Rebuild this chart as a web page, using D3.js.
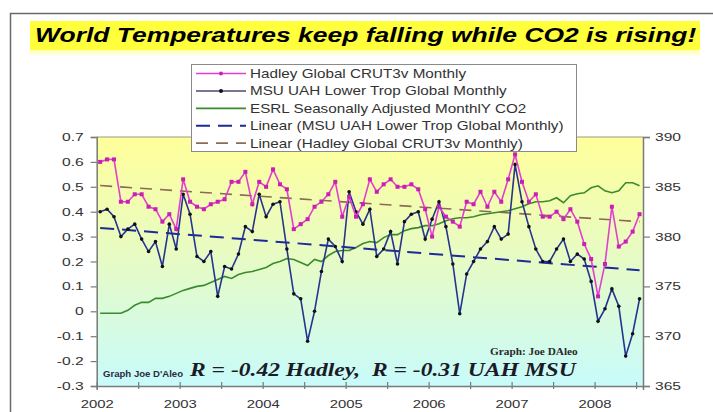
<!DOCTYPE html>
<html><head><meta charset="utf-8">
<script src="https://cdn.jsdelivr.net/npm/d3@7"></script>
<style>
html,body{margin:0;padding:0;background:#fff;}
svg{display:block;}
text{white-space:pre;}
</style></head><body>
<svg id="c" width="713" height="412"></svg>
<script>
// ---------- data ----------
const years = ["2002","2003","2004","2005","2006","2007","2008"];
const leftTicks = [0.7,0.6,0.5,0.4,0.3,0.2,0.1,0,-0.1,-0.2,-0.3];
const rightTicks = [390,385,380,375,370,365];
const seriesNames = [
  "Hadley Global CRUT3v Monthly",
  "MSU UAH Lower Trop Global Monthly",
  "ESRL Seasonally Adjusted MonthlY CO2",
  "Linear (MSU UAH Lower Trop Global Monthly)",
  "Linear (Hadley Global CRUT3v Monthly)"
];
// monthly values Jan 2002 .. Jul 2008
const hadley = [0.60,0.61,0.61,0.44,0.44,0.47,0.47,0.42,0.41,0.36,0.39,0.33,
  0.53,0.44,0.42,0.41,0.43,0.44,0.45,0.52,0.52,0.56,0.43,0.52,
  0.50,0.57,0.51,0.49,0.33,0.35,0.37,0.42,0.44,0.47,0.52,0.38,
  0.46,0.38,0.43,0.53,0.48,0.51,0.53,0.50,0.50,0.51,0.49,0.41,
  0.30,0.42,0.38,0.36,0.34,0.44,0.43,0.48,0.42,0.48,0.44,0.53,
  0.63,0.52,0.44,0.47,0.38,0.38,0.40,0.37,0.41,0.36,0.27,0.21,
  0.06,0.19,0.42,0.26,0.28,0.32,0.39];
const uah = [0.40,0.41,0.38,0.30,0.33,0.35,0.29,0.24,0.28,0.18,0.35,0.25,
  0.47,0.39,0.22,0.20,0.24,0.06,0.18,0.17,0.23,0.34,0.32,0.47,
  0.38,0.43,0.44,0.25,0.07,0.05,-0.12,0.00,0.16,0.29,0.26,0.20,
  0.48,0.40,0.35,0.41,0.22,0.25,0.32,0.19,0.36,0.39,0.40,0.29,
  0.37,0.44,0.34,0.19,-0.01,0.15,0.20,0.25,0.28,0.34,0.29,0.31,
  0.59,0.44,0.34,0.25,0.20,0.20,0.25,0.29,0.20,0.23,0.21,0.12,
  -0.04,0.01,0.09,0.02,-0.18,-0.09,0.05];
const co2 = [372.3,372.3,372.3,372.3,372.6,373.1,373.4,373.4,373.8,373.8,374.0,374.3,
  374.6,374.8,375.0,375.1,375.4,375.7,376.0,375.8,376.2,376.4,376.5,376.7,
  376.9,377.3,377.5,377.8,377.7,377.4,377.1,377.7,377.5,378.1,378.5,378.6,
  378.6,378.9,379.3,379.5,379.4,379.9,380.2,380.2,380.6,380.8,380.9,381.1,
  381.1,381.3,381.6,381.8,381.9,381.9,382.0,382.2,382.3,382.4,382.5,382.6,
  382.8,383.0,383.3,383.5,383.5,383.6,383.9,383.4,384.1,384.3,384.4,384.9,
  385.1,384.6,384.4,384.6,385.4,385.4,385.1];
const uahTrend = [0.335, 0.165];     // at first and last month
const hadleyTrend = [0.505, 0.360];  // at first and last month
const titleText = "World Temperatures keep falling while CO2 is rising!";
const noteR = "R = -0.42 Hadley,  R = -0.31 UAH MSU";
const noteGraph1 = "Graph Joe D'Aleo";
const noteGraph2 = "Graph: Joe DAleo";

// ---------- setup ----------
const svg = d3.select("#c");
const W = 713, H = 412;
const plot = {left: 96.7, right: 643, top: 137, bottom: 386};
const n = hadley.length;
const x = d3.scaleLinear().domain([-0.5, n - 0.5]).range([plot.left, plot.right]);
const yL = d3.scaleLinear().domain([-0.3, 0.7]).range([plot.bottom, plot.top]);
const yR = d3.scaleLinear().domain([365, 390]).range([plot.bottom, plot.top]);
const SANS = "'Liberation Sans', Arial, sans-serif";
const SERIF = "'Liberation Serif', 'Times New Roman', serif";

const defs = svg.append("defs");
const g1 = defs.append("linearGradient").attr("id","bg").attr("x1",0).attr("y1",0).attr("x2",0).attr("y2",1);
g1.append("stop").attr("offset","0%").attr("stop-color","#ffff9a");
g1.append("stop").attr("offset","50%").attr("stop-color","#e6fbc6");
g1.append("stop").attr("offset","100%").attr("stop-color","#c8fbfb");
const g2 = defs.append("linearGradient").attr("id","fade").attr("x1",0).attr("y1",0).attr("x2",0).attr("y2",1);
g2.append("stop").attr("offset","0%").attr("stop-color","#ffffb0");
g2.append("stop").attr("offset","100%").attr("stop-color","#ffffff");

// frame
svg.append("rect").attr("x",10.5).attr("y",13.5).attr("width",760).attr("height",460)
  .attr("fill","#fff").attr("stroke","#6a6a6a").attr("stroke-width",1.5);

// title band
svg.append("rect").attr("x",30).attr("y",21).attr("width",670).attr("height",29).attr("fill","#ffff3c");
svg.append("rect").attr("x",30).attr("y",50).attr("width",670).attr("height",7).attr("fill","url(#fade)");

function stext(parent, px, py, str, o) {
  const g = parent.append("g").attr("transform", `translate(${px},${py}) scale(${o.sx||1},1)`);
  const t = g.append("text").text(str)
    .attr("font-family", o.family || SANS)
    .attr("font-size", o.size)
    .attr("font-weight", o.weight || "normal")
    .attr("font-style", o.style || "normal")
    .attr("fill", o.fill || "#222")
    .attr("text-anchor", o.anchor || "start");
  if (o.dy) t.attr("dy", o.dy);
  return t;
}
stext(svg, 35, 42, titleText, {size: 21, weight: "bold", style: "italic", sx: 1.26, fill: "#000"});

// plot background
svg.append("rect").attr("x",plot.left).attr("y",plot.top)
  .attr("width",plot.right-plot.left).attr("height",plot.bottom-plot.top).attr("fill","url(#bg)");
svg.append("line").attr("x1",plot.left).attr("x2",plot.right).attr("y1",plot.top).attr("y2",plot.top)
  .attr("stroke","#9a9a88").attr("stroke-width",1);

// ---------- axes ----------
const fmt = d => (Math.round(d*10)/10).toString();
const AX = "#7a7a7a", SXA = 1.42;
const axL = svg.append("g").attr("transform",`translate(${plot.left},0)`)
  .call(d3.axisLeft(yL).tickValues(leftTicks).tickFormat(fmt).tickSize(6).tickPadding(7));
const axR = svg.append("g").attr("transform",`translate(${plot.right},0)`)
  .call(d3.axisRight(yR).tickValues(rightTicks).tickSize(7).tickPadding(5));
const xTicks = d3.range(0, n + 1, 6).map(i => i - 0.5);
const axB = svg.append("g").attr("transform",`translate(0,${plot.bottom})`)
  .call(d3.axisBottom(x).tickValues(xTicks)
    .tickFormat(v => { const k = v + 0.5; return k % 12 === 0 && years[k/12] ? years[k/12] : ""; })
    .tickSize(4).tickPadding(10));
[axL, axR, axB].forEach(a => {
  a.select(".domain").attr("stroke", AX).attr("stroke-width", 1.5);
  a.selectAll(".tick line").attr("stroke", AX).attr("stroke-width", 1.2);
  a.selectAll("text").attr("font-family", SANS).attr("font-size", 11).attr("fill", "#333");
});
axL.selectAll("text").attr("x", -13 / SXA).attr("transform", `scale(${SXA},1)`);
axR.selectAll("text").attr("x", 12 / SXA).attr("transform", `scale(${SXA},1)`);
axB.selectAll("text").attr("x", 0).attr("transform", `scale(1.35,1)`);
axB.selectAll(".tick").each(function(d){ d3.select(this).select("text").attr("x", 0); });
axB.selectAll(".tick line").attr("y1", -4).attr("y2", 3);

// ---------- series ----------
const lineL = d3.line().x((d,i) => x(i)).y(d => yL(d));
const lineR = d3.line().x((d,i) => x(i)).y(d => yR(d));
const C = {had: "#e23fd0", hadDot: "#c81fb4", uah: "#27348f", co2: "#3b8a2e", uahT: "#1d2a98", hadT: "#8c6a58"};

svg.append("path").datum(co2).attr("d", lineR).attr("fill","none").attr("stroke",C.co2).attr("stroke-width",1.6);
svg.append("line").attr("x1",x(0)).attr("x2",x(n-1)).attr("y1",yL(uahTrend[0])).attr("y2",yL(uahTrend[1]))
  .attr("stroke",C.uahT).attr("stroke-width",2).attr("stroke-dasharray","14,8");
svg.append("line").attr("x1",x(0)).attr("x2",x(n-1)).attr("y1",yL(hadleyTrend[0])).attr("y2",yL(hadleyTrend[1]))
  .attr("stroke",C.hadT).attr("stroke-width",1.6).attr("stroke-dasharray","12,8");
svg.append("path").datum(uah).attr("d", lineL).attr("fill","none").attr("stroke",C.uah).attr("stroke-width",1.6);
svg.append("g").selectAll("circle").data(uah).join("circle")
  .attr("cx",(d,i)=>x(i)).attr("cy",d=>yL(d)).attr("r",1.8).attr("fill","#111");
svg.append("path").datum(hadley).attr("d", lineL).attr("fill","none").attr("stroke",C.had).attr("stroke-width",1.6);
svg.append("g").selectAll("rect").data(hadley).join("rect")
  .attr("x",(d,i)=>x(i)-2).attr("y",d=>yL(d)-2).attr("width",4).attr("height",4).attr("fill",C.hadDot);

// ---------- annotations ----------
stext(svg, 103, 377, noteGraph1, {size: 8.5, weight: "bold", sx: 1.13, fill: "#2a2a40"});
stext(svg, 490, 355, noteGraph2, {size: 10, weight: "bold", family: SERIF, sx: 1.13, fill: "#2a2a2a"});
stext(svg, 190, 376, noteR, {size: 19, weight: "bold", style: "italic", family: SERIF, sx: 1.24, fill: "#1b1b28"});

// ---------- legend ----------
const lg = svg.append("g");
lg.append("rect").attr("x",191.5).attr("y",64.5).attr("width",385).attr("height",87)
  .attr("fill","#fff").attr("stroke","#8a8a8a").attr("stroke-width",1);
const legendStyle = [
  {stroke: C.had, dash: null, dot: C.hadDot, w: 1.5},
  {stroke: "#4a4a70", dash: null, dot: "#111", w: 1.5},
  {stroke: C.co2, dash: null, dot: null, w: 1.8},
  {stroke: C.uahT, dash: "14,8", dot: null, w: 2},
  {stroke: C.hadT, dash: "12,8", dot: null, w: 1.8}
];
seriesNames.forEach((name, k) => {
  const cy = 73.5 + k * 17.4;
  const ln = lg.append("line").attr("x1",196).attr("x2",246).attr("y1",cy).attr("y2",cy)
    .attr("stroke", legendStyle[k].stroke).attr("stroke-width", legendStyle[k].w);
  if (legendStyle[k].dash) ln.attr("stroke-dasharray", legendStyle[k].dash);
  if (legendStyle[k].dot) lg.append("circle").attr("cx",221).attr("cy",cy).attr("r",2).attr("fill",legendStyle[k].dot);
  stext(lg, 250, cy, name, {size: 12.5, sx: 1.22, fill: "#333", dy: "0.36em"});
});
</script>
</body></html>
